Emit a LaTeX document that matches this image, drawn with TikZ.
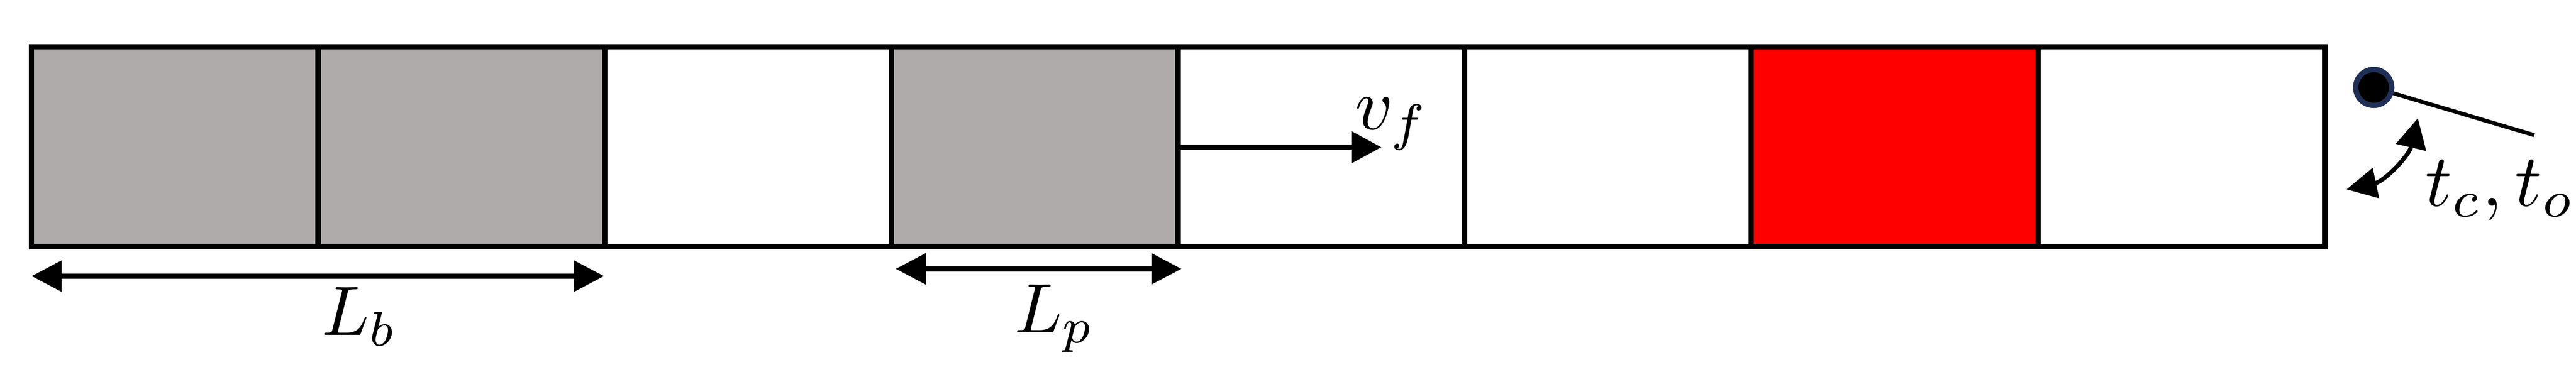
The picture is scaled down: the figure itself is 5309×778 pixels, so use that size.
\documentclass[tikz,border=0pt]{standalone}
\usetikzlibrary{arrows.meta}
\definecolor{cellgray}{HTML}{AFABAB}
\definecolor{cellred}{HTML}{FF0000}
\definecolor{knobblue}{HTML}{1F2F55}
\begin{document}
\begin{tikzpicture}[x=0.01cm,y=-0.01cm,
  cell/.style={draw=black, line width=3.1pt, minimum width=5.9075cm, minimum height=4.125cm, inner sep=0pt, outer sep=0pt},
  dimarrow/.style={line width=3.05pt, {Triangle[length=0.62cm,width=0.62cm]}-{Triangle[length=0.62cm,width=0.62cm]}},
  lbl/.style={scale=4.1, inner sep=0pt, anchor=base west},
  vlbl/.style={scale=4.3, inner sep=0pt, anchor=base west},
  tlbl/.style={scale=4.35, inner sep=0pt, anchor=base west}
]
\useasboundingbox (0,0) rectangle (5309,778);
% cells
\node[cell, fill=cellgray] (c1) at (360.375,302.75) {};
\node[cell, fill=cellgray] (c2) at (951.125,302.75) {};
\node[cell, fill=white]    (c3) at (1541.875,302.75) {};
\node[cell, fill=cellgray] (c4) at (2132.625,302.75) {};
\node[cell, fill=white]    (c5) at (2723.375,302.75) {};
\node[cell, fill=white]    (c6) at (3314.125,302.75) {};
\node[cell, fill=cellred]  (c7) at (3904.875,302.75) {};
\node[cell, fill=white]    (c8) at (4495.625,302.75) {};
% L_b
\coordinate (lb1) at (65,570);
\coordinate (lb2) at (1245,570);
\draw[dimarrow] (lb1) -- (lb2);
\node[lbl] (Lb) at (660,692) {$L_b$};
% L_p
\coordinate (lp1) at (1846,555);
\coordinate (lp2) at (2435,555);
\draw[dimarrow] (lp1) -- (lp2);
\node[lbl] (Lp) at (2088,686) {$L_p$};
% v_f
\coordinate (vf1) at (2428,304);
\coordinate (vf2) at (2847,304);
\draw[line width=3.05pt, -{Triangle[length=0.62cm,width=0.64cm]}] (vf1) -- (vf2);
\node[vlbl] (vf) at (2790,267) {$v_f$};
% valve
\coordinate (lever) at (5223,279);
\node[circle, draw=knobblue, fill=black, line width=3.1pt, minimum size=0.74cm, inner sep=0pt] (knob) at (4892,180.5) {};
\draw[line width=2.3pt] (knob) -- (lever);
\node[circle, draw=knobblue, fill=black, line width=3.1pt, minimum size=0.74cm, inner sep=0pt] (knobtop) at (knob.center) {};
\coordinate (ca1) at (4836,391);
\coordinate (ca2) at (4983,244);
\draw[line width=2.5pt, {Triangle[length=0.62cm,width=0.62cm]}-{Triangle[length=0.62cm,width=0.62cm]}] (ca1) .. controls (4915,374) and (4965,321) .. (ca2);
\node[tlbl] (tc) at (4995,425) {$t_c, t_o$};
\end{tikzpicture}
\end{document}
